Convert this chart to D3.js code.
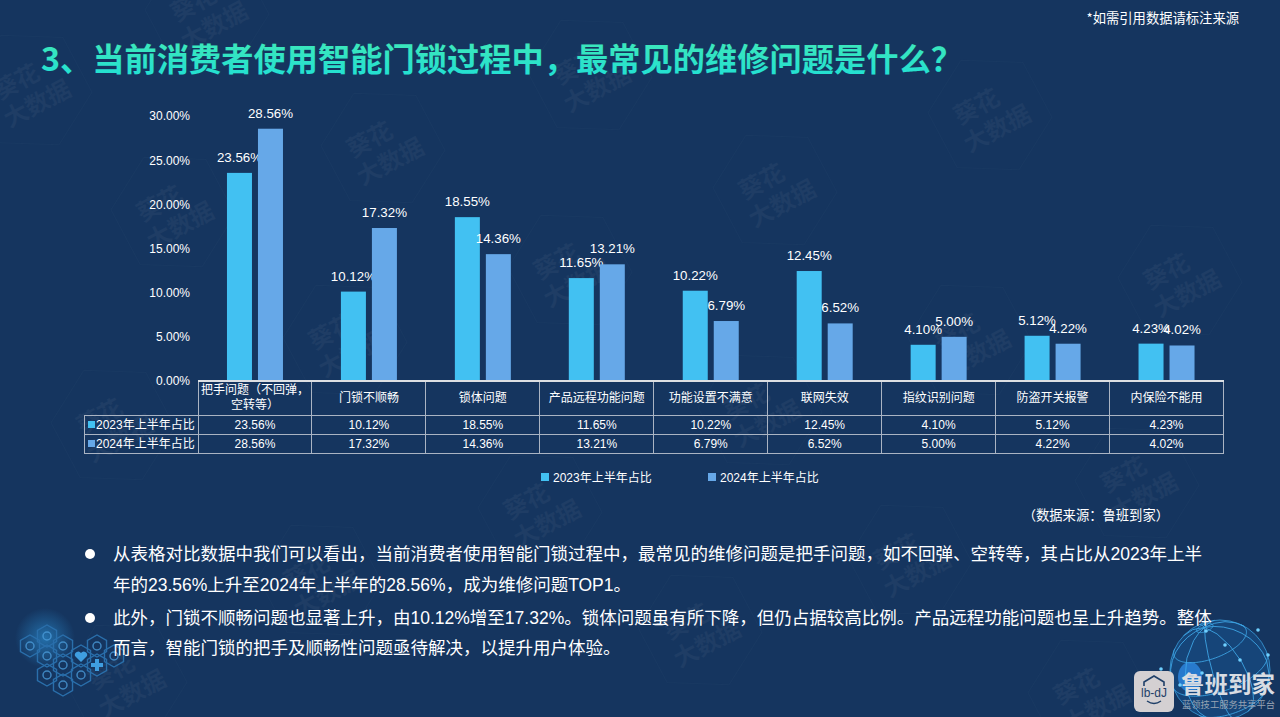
<!DOCTYPE html>
<html>
<head>
<meta charset="utf-8">
<script src="https://cdn.jsdelivr.net/npm/d3@7"></script>
<style>
  html, body { margin: 0; padding: 0; background: #15355f; overflow: hidden; }
  text { font-family: "Noto Sans CJK SC", "Liberation Sans", sans-serif; }
  .num, .mixed { font-family: "Liberation Sans", "Noto Sans CJK SC", sans-serif; }
</style>
</head>
<body>
<div id="chart"></div>
<script>
const categories = ["把手问题\uFF08不回弹\uFF0C|空转等\uFF09", "门锁不顺畅", "锁体问题", "产品远程功能问题", "功能设置不满意", "联网失效", "指纹识别问题", "防盗开关报警", "内保险不能用"];
const seriesNames = ["2023年上半年占比", "2024年上半年占比"];
const values2023 = [23.56, 10.12, 18.55, 11.65, 10.22, 12.45, 4.10, 5.12, 4.23];
const values2024 = [28.56, 17.32, 14.36, 13.21, 6.79, 6.52, 5.00, 4.22, 4.02];
const yTicks = [0, 5, 10, 15, 20, 25, 30];
const bullets = [
  ["从表格对比数据中我们可以看出\uFF0C当前消费者使用智能门锁过程中\uFF0C最常见的维修问题是把手问题\uFF0C如不回弹、空转等\uFF0C其占比从2023年上半", "年的23.56%上升至2024年上半年的28.56%\uFF0C成为维修问题TOP1。"],
  ["此外\uFF0C门锁不顺畅问题也显著上升\uFF0C由10.12%增至17.32%。锁体问题虽有所下降\uFF0C但仍占据较高比例。产品远程功能问题也呈上升趋势。整体", "而言\uFF0C智能门锁的把手及顺畅性问题亟待解决\uFF0C以提升用户体验。"]
];
const watermarks = [[207, 12], [30, 90], [590, 75], [383, 148], [173, 212], [990, 115], [775, 190], [570, 270], [345, 340], [113, 425], [1180, 280], [970, 340], [760, 410], [540, 510], [320, 580], [125, 680], [1137, 483], [910, 560], [700, 630], [1090, 695]];

const width = 1280, height = 717;
const colors = ["#42c1f2", "#66a8e8"];
const plot = { left: 198, right: 1223.5, top: 116, bottom: 381 };
const rows = { head: 415, r1: 434, r2: 453, left: 84 };

const svg = d3.select("#chart").append("svg").attr("width", width).attr("height", height)
  .style("display", "block");
const defs = svg.append("defs");

svg.append("rect").attr("width", width).attr("height", height).attr("fill", "#15355f");

// title gradient and corner glow
const tg = defs.append("linearGradient").attr("id", "titleFill").attr("x1", 0).attr("x2", 0).attr("y1", 0).attr("y2", 1);
tg.append("stop").attr("offset", "0%").attr("stop-color", "#43e9b4");
tg.append("stop").attr("offset", "100%").attr("stop-color", "#1fdfd6");
const glow = defs.append("radialGradient").attr("id", "glow");
glow.append("stop").attr("offset", "0%").attr("stop-color", "#2f9fe8").attr("stop-opacity", 0.55);
glow.append("stop").attr("offset", "100%").attr("stop-color", "#2f9fe8").attr("stop-opacity", 0);

// watermarks
const hexShape = r => d3.line()(d3.range(6).map(i => [r * Math.sin(i * Math.PI / 3), r * Math.cos(i * Math.PI / 3)])) + "Z";
const wm = svg.selectAll(".wm").data(watermarks).enter().append("g")
  .attr("class", "wm")
  .attr("transform", d => "translate(" + d[0] + "," + d[1] + ") rotate(-28)")
  .attr("fill", "#1f3d65").attr("font-weight", 700).attr("text-anchor", "middle");
wm.append("path").attr("d", hexShape(62)).attr("fill", "none").attr("stroke", "#193962");
wm.append("text").attr("font-size", 24).attr("x", -8).attr("y", -5).text("葵花");
wm.append("text").attr("font-size", 24).attr("x", 0).attr("y", 24).text("大数据");

// globe, bottom right
const globe = svg.append("g");
const globeCx = 1220, globeCy = 670, globeR = 50;
const proj = d3.geoOrthographic().translate([globeCx, globeCy]).scale(globeR).rotate([30, -25, 20]);
const geoPath = d3.geoPath(proj);
globe.append("circle").attr("cx", globeCx).attr("cy", globeCy).attr("r", globeR).attr("fill", "#1a5f9f").attr("opacity", 0.4);
globe.append("ellipse").attr("cx", 1190).attr("cy", 677).attr("rx", 12).attr("ry", 15).attr("fill", "#2a7fd6").attr("opacity", 0.9);
globe.append("path").datum(d3.geoGraticule().step([40, 40])()).attr("d", geoPath)
  .attr("fill", "none").attr("stroke", "#3fa9ea").attr("stroke-width", 1).attr("opacity", 0.85);
globe.append("circle").attr("cx", globeCx).attr("cy", globeCy).attr("r", globeR).attr("fill", "none").attr("stroke", "#3fa9ea").attr("stroke-opacity", 0.7);
const globeNodes = [[1206, 631], [1268, 655], [1258, 630], [1161, 669], [1180, 685], [1202, 673], [1240, 660], [1225, 645]];
globe.selectAll(".node").data(globeNodes).enter().append("circle").attr("class", "node")
  .attr("cx", d => d[0]).attr("cy", d => d[1]).attr("r", 1.8).attr("fill", "#6fd0ff");

// hexagons, bottom left
const hexes = [[30, 646], [47, 636], [63, 646], [47, 656], [81, 656], [97, 646], [114, 656], [63, 665], [97, 665], [47, 675], [81, 675], [63, 685]];
svg.append("circle").attr("cx", 45).attr("cy", 638).attr("r", 30).attr("fill", "url(#glow)");
svg.selectAll(".hex").data(hexes).enter().append("path").attr("class", "hex")
  .attr("transform", d => "translate(" + d[0] + "," + d[1] + ")")
  .attr("d", hexShape(11)).attr("fill", "none")
  .attr("stroke", "#2a6fab").attr("stroke-width", 1.4);
svg.selectAll(".hexi").data(hexes.filter((d, i) => i !== 4 && i !== 8)).enter().append("circle").attr("class", "hexi")
  .attr("cx", d => d[0]).attr("cy", d => d[1]).attr("r", 4).attr("fill", "none")
  .attr("stroke", "#4a9ad8").attr("stroke-width", 1.5).attr("opacity", 0.8);
svg.append("path").attr("transform", "translate(81,656)")
  .attr("d", "M0 6 L-6 0 A3.4 3.4 0 0 1 0 -3 A3.4 3.4 0 0 1 6 0 Z").attr("fill", "#3f9ee0");
svg.append("path").attr("transform", "translate(97,665)")
  .attr("d", "M-2 -6 H2 V-2 H6 V2 H2 V6 H-2 V2 H-6 V-2 H-2 Z").attr("fill", "#3f9ee0");

// title
svg.append("text").attr("x", 41).attr("y", 71).attr("font-size", 32.25).attr("font-weight", 700)
  .attr("fill", "url(#titleFill)").text("3、当前消费者使用智能门锁过程中\uFF0C最常见的维修问题是什么\uFF1F");
svg.append("text").attr("x", 1239).attr("y", 23).attr("text-anchor", "end").attr("font-size", 13.3)
  .attr("fill", "#fff").text("*如需引用数据请标注来源");

//create Scales
const xScale = d3.scaleBand().domain(categories).range([plot.left, plot.right]);
const yScale = d3.scaleLinear().domain([0, 30]).range([plot.bottom, plot.top]);
const xInner = d3.scaleBand().domain(seriesNames).range([-28, 28]).paddingInner(0.1935);

// y axis, labels only
const yAxis = d3.axisLeft(yScale).tickValues(yTicks).tickSize(0).tickPadding(0).tickFormat(d => d.toFixed(2) + "%");
const yG = svg.append("g").attr("transform", "translate(190,0)").call(yAxis);
yG.select(".domain").remove();
yG.selectAll("text").attr("class", "num").attr("fill", "#fff").attr("font-size", 12);

// bars and value labels
[values2023, values2024].forEach((vals, s) => {
  const g = svg.append("g");
  g.selectAll("rect").data(vals).enter().append("rect")
    .attr("x", (d, i) => xScale(categories[i]) + xScale.bandwidth() / 2 + xInner(seriesNames[s]))
    .attr("y", d => yScale(d))
    .attr("width", xInner.bandwidth())
    .attr("height", d => plot.bottom - yScale(d))
    .attr("fill", colors[s]);
  g.selectAll("text").data(vals).enter().append("text")
    .attr("class", "num")
    .attr("x", (d, i) => xScale(categories[i]) + xScale.bandwidth() / 2 + xInner(seriesNames[s]) + xInner.bandwidth() / 2)
    .attr("y", d => yScale(d) - 11)
    .attr("text-anchor", "middle").attr("font-size", 13.3).attr("fill", "#fff")
    .text(d => d.toFixed(2) + "%");
});

// data table
const tbl = svg.append("g").attr("stroke", "#aab4c3").attr("stroke-width", 1).attr("shape-rendering", "crispEdges");
[rows.head, rows.r1, rows.r2].forEach(y => {
  tbl.append("line").attr("x1", rows.left).attr("x2", plot.right).attr("y1", y).attr("y2", y);
});
tbl.append("line").attr("x1", rows.left).attr("x2", rows.left).attr("y1", rows.head).attr("y2", rows.r2);
categories.forEach(c => {
  tbl.append("line").attr("x1", xScale(c)).attr("x2", xScale(c)).attr("y1", plot.bottom).attr("y2", rows.r2);
});
tbl.append("line").attr("x1", plot.right).attr("x2", plot.right).attr("y1", plot.bottom).attr("y2", rows.r2);
tbl.append("line").attr("x1", plot.left).attr("x2", plot.right).attr("y1", plot.bottom).attr("y2", plot.bottom)
  .attr("stroke", "#dcdfe3").attr("stroke-width", 2);

categories.forEach((c, i) => {
  const cx = xScale(c) + xScale.bandwidth() / 2;
  const parts = c.split("|");
  parts.forEach((p, k) => {
    svg.append("text").attr("x", cx).attr("y", parts.length > 1 ? 394 + k * 14.5 : 402)
      .attr("text-anchor", "middle").attr("font-size", 12).attr("fill", "#fff").text(p);
  });
  [values2023, values2024].forEach((vals, s) => {
    svg.append("text").attr("class", "num").attr("x", cx).attr("y", (s ? rows.r1 : rows.head) + 14)
      .attr("text-anchor", "middle").attr("font-size", 12).attr("fill", "#fff").text(vals[i].toFixed(2) + "%");
  });
});
seriesNames.forEach((n, s) => {
  const y = s ? rows.r1 : rows.head;
  svg.append("rect").attr("x", 88).attr("y", y + 6).attr("width", 7).attr("height", 7).attr("fill", colors[s]);
  svg.append("text").attr("class", "mixed").attr("x", 96).attr("y", y + 14).attr("font-size", 12).attr("fill", "#fff").text(n);
});

// legend
const legendX = [541, 708];
seriesNames.forEach((n, s) => {
  svg.append("rect").attr("x", legendX[s]).attr("y", 473).attr("width", 8).attr("height", 8).attr("fill", colors[s]);
  svg.append("text").attr("class", "mixed").attr("x", legendX[s] + 12).attr("y", 482).attr("font-size", 12).attr("fill", "#fff").text(n);
});

svg.append("text").attr("x", 1169).attr("y", 520).attr("text-anchor", "end").attr("font-size", 13.3)
  .attr("fill", "#fff").text("\uFF08数据来源\uFF1A鲁班到家\uFF09");

// bullets
const bulletY = [[560, 591], [624, 654]];
bullets.forEach((lines, b) => {
  svg.append("circle").attr("cx", 90).attr("cy", bulletY[b][0] - 6).attr("r", 5).attr("fill", "#fff");
  lines.forEach((t, k) => {
    svg.append("text").attr("class", "mixed").attr("x", 113).attr("y", bulletY[b][k]).attr("font-size", 17.5).attr("fill", "#fff").text(t);
  });
});

// logo
const logo = svg.append("g");
logo.append("rect").attr("x", 1134).attr("y", 671).attr("width", 40).attr("height", 41).attr("rx", 6).attr("fill", "#d4d0d2");
logo.append("text").attr("x", 1154).attr("y", 697).attr("text-anchor", "middle").attr("font-size", 12)
  .attr("class", "num").attr("fill", "#1f3f68").text("lb-dJ");
logo.append("path").attr("d", "M1144 686 V682 L1154 676 L1164 682 V686").attr("fill", "none").attr("stroke", "#1f3f68").attr("stroke-width", 1.6);
logo.append("path").attr("d", "M1147 701 Q1154 706 1161 701").attr("fill", "none").attr("stroke", "#1f3f68").attr("stroke-width", 1.4);
logo.append("text").attr("x", 1181).attr("y", 693).attr("font-size", 23.5).attr("font-weight", 700).attr("fill", "#d9dde3").text("鲁班到家");
logo.append("text").attr("x", 1182).attr("y", 708).attr("font-size", 9.3).attr("fill", "#98a3b3").text("蓝领技工服务共享平台");
</script>
</body>
</html>
